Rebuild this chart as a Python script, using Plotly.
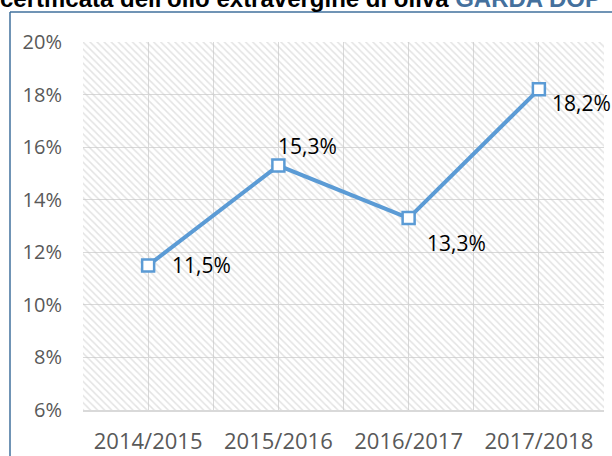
"""Quota di produzione certificata dell'olio extravergine di oliva GARDA DOP."""

import plotly.graph_objects as go

# Dati
campagne = ["2014/2015", "2015/2016", "2016/2017", "2017/2018"]
quota = [11.5, 15.3, 13.3, 18.2]
etichette = ["11,5%", "15,3%", "13,3%", "18,2%"]
y_ticks = [6, 8, 10, 12, 14, 16, 18, 20]

# Spostamento (px) delle etichette rispetto al marker
label_shift = [(22, 0), (-2, 20), (16, -25), (11, -14)]

colors = {
    "line": "#5B9BD5",
    "grid": "#D9D9D9",
    "hatch": "#C8C8C8",
    "tick": "#595959",
    "border": "#41719C",
    "title_blue": "#44709D",
}
FONT = "Open Sans"

# Pixel -> paper helpers (margini fissi)
W, H = 612, 456
M = dict(l=83, r=8, t=42, b=46)
PW, PH = W - M["l"] - M["r"], H - M["t"] - M["b"]


def px_x(p):
    return (p - M["l"]) / PW


def px_y(p):
    return (H - M["b"] - p) / PH


x_pos = list(range(len(campagne)))

fig = go.Figure()

# Sfondo tratteggiato dell'area del grafico (trasparente, la griglia resta visibile)
fig.add_trace(
    go.Bar(
        x=x_pos,
        y=[y_ticks[-1] - y_ticks[0]] * len(campagne),
        base=y_ticks[0],
        width=1,
        marker=dict(
            color="rgba(0,0,0,0)",
            line=dict(width=0),
            pattern=dict(shape="\\", fgcolor=colors["hatch"], bgcolor="rgba(0,0,0,0)",
                         size=5, solidity=0.3),
        ),
        hoverinfo="skip",
        showlegend=False,
    )
)

fig.add_trace(
    go.Scatter(
        x=x_pos,
        y=quota,
        mode="lines+markers",
        line=dict(color=colors["line"], width=4),
        marker=dict(symbol="square", size=12, color="white",
                    line=dict(color=colors["line"], width=2.5)),
        showlegend=False,
    )
)

for xi, yi, txt, (dx, dy) in zip(x_pos, quota, etichette, label_shift):
    fig.add_annotation(
        x=xi, y=yi, text=txt, showarrow=False,
        xanchor="left", yanchor="middle",
        xshift=dx, yshift=dy,
        font=dict(family=FONT, size=21, color="black"),
    )

# Titolo (tagliato in alto come nell'originale)
fig.add_annotation(
    xref="paper", yref="paper", x=px_x(-2), y=px_y(14),
    xanchor="left", yanchor="bottom", showarrow=False,
    text="certificata dell'olio extravergine di oliva "
         f"<span style='color:{colors['title_blue']}'>GARDA DOP</span>",
    font=dict(family="Liberation Sans", size=24, color="black", weight="bold"),
)

# Bordo del riquadro
fig.add_shape(type="line", xref="paper", yref="paper",
              x0=px_x(10), x1=px_x(10), y0=px_y(12), y1=px_y(470),
              line=dict(color=colors["border"], width=1.5))
fig.add_shape(type="line", xref="paper", yref="paper",
              x0=px_x(10), x1=px_x(640), y0=px_y(12), y1=px_y(12),
              line=dict(color=colors["border"], width=1.5))

fig.update_layout(
    width=W,
    height=H,
    margin=M,
    paper_bgcolor="white",
    plot_bgcolor="white",
    bargap=0,
    font=dict(family=FONT, color=colors["tick"]),
)

fig.update_xaxes(
    range=[-0.5, 3.5],
    tickvals=x_pos,
    ticktext=campagne,
    tickfont=dict(family=FONT, size=22, color=colors["tick"]),
    showgrid=True,
    gridcolor=colors["grid"],
    minor=dict(dtick=0.5, tick0=-0.5, showgrid=True, gridcolor=colors["grid"]),
    showline=True,
    linecolor=colors["grid"],
    linewidth=1.5,
    ticks="",
    ticklabelstandoff=11,
    zeroline=False,
    automargin=False,
)

fig.update_yaxes(
    range=[y_ticks[0], y_ticks[-1]],
    tickvals=y_ticks,
    ticktext=[f"{v}%" for v in y_ticks],
    tickfont=dict(family=FONT, size=20, color=colors["tick"]),
    showgrid=True,
    gridcolor=colors["grid"],
    showline=False,
    ticks="",
    ticklabelstandoff=20,
    zeroline=False,
    automargin=False,
)

fig.write_html(
    "out.html",
    config={"displayModeBar": False},
    post_script="document.body.style.margin='0';",
)
